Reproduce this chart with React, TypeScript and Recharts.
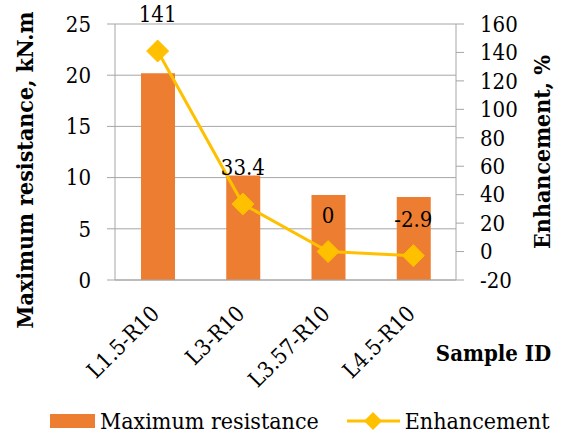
import {
  ComposedChart,
  Bar,
  Line,
  XAxis,
  YAxis,
  CartesianGrid,
  Legend,
  LabelList,
} from "recharts";

const sampleIds = ["L1.5-R10", "L3-R10", "L3.57-R10", "L4.5-R10"];
const maxResistance = [20.2, 10.2, 8.3, 8.1];
const enhancement = [141, 33.4, 0, -2.9];

const leftTicks = [0, 5, 10, 15, 20, 25];
const rightTicks = [-20, 0, 20, 40, 60, 80, 100, 120, 140, 160];
const edgeTicks = [0, 1, 2, 3, 4];

const data = sampleIds.map((id, i) => ({
  id,
  resistance: maxResistance[i],
  enhancement: enhancement[i],
}));

const FONT = '"DejaVu Serif Condensed", "DejaVu Serif"';
const ORANGE = "#ED7D31";
const GOLD = "#FFC000";
const GRID = "#A6A6A6";

const titleStyle = {
  fontFamily: FONT,
  fontSize: 22,
  fontWeight: "bold",
  fill: "#000",
};
const yTitleStyle = { ...titleStyle, fontSize: 23 };

// blank label for the boundary tick marks
const EmptyTick = () => null;

const CategoryTick = (props: any) => {
  const { x, y, payload } = props;
  const ax = x + 3;
  const ay = y + 26;
  return (
    <text
      x={ax}
      y={ay}
      transform={`rotate(-45 ${ax} ${ay})`}
      textAnchor="end"
      fontSize={22}
      style={{ fontFamily: FONT }}
      fill="#000"
    >
      {payload.value}
    </text>
  );
};

const Diamond = (props: any) => {
  const { cx, cy } = props;
  if (cx == null || cy == null) return null;
  const r = 11;
  return (
    <path
      d={`M${cx},${cy - r}L${cx + r},${cy}L${cx},${cy + r}L${cx - r},${cy}Z`}
      fill={GOLD}
      stroke={GOLD}
    />
  );
};

const LegendContent = () => (
  <div
    style={{
      display: "flex",
      alignItems: "center",
      fontFamily: FONT,
      fontSize: 23,
      color: "#000",
      whiteSpace: "nowrap",
      height: 30,
    }}
  >
    <span
      style={{ width: 45, height: 14, background: ORANGE, marginRight: 5 }}
    />
    <span style={{ marginRight: 28 }}>Maximum resistance</span>
    <svg width={53} height={24} style={{ marginRight: 5 }}>
      <line x1={0} y1={12} x2={53} y2={12} stroke={GOLD} strokeWidth={3} />
      <path d="M26,3L35,12L26,21L17,12Z" fill={GOLD} />
    </svg>
    <span>Enhancement</span>
  </div>
);

export default function App() {
  return (
    <div style={{ position: "absolute", left: 0, top: 0 }}>
      <ComposedChart
        width={562}
        height={441}
        data={data}
        margin={{ top: 24, right: 0, bottom: 0, left: 0 }}
      >
        <CartesianGrid
          vertical={false}
          stroke={GRID}
          xAxisId="cat"
          yAxisId="left"
        />
        <XAxis
          xAxisId="edge"
          type="number"
          domain={[0, 4]}
          ticks={edgeTicks}
          allowDataOverflow
          height={0}
          axisLine={false}
          tickSize={7}
          tickLine={{ stroke: GRID }}
          tick={EmptyTick}
        />
        <XAxis
          xAxisId="cat"
          dataKey="id"
          height={161}
          tickLine={false}
          tickSize={7}
          tickMargin={2}
          axisLine={{ stroke: GRID }}
          interval={0}
          tick={<CategoryTick />}
          label={{
            value: "Sample ID",
            position: "center",
            dx: 208,
            dy: -7,
            style: titleStyle,
          }}
        />
        <YAxis
          yAxisId="left"
          width={115}
          domain={[0, 25]}
          ticks={leftTicks}
          interval={0}
          tickSize={8}
          tickMargin={16}
          axisLine={{ stroke: GRID }}
          tickLine={{ stroke: GRID }}
          tick={{ fontSize: 22, fill: "#000", style: { fontFamily: FONT } }}
          label={{
            value: "Maximum resistance, kN.m",
            angle: -90,
            position: "center",
            dx: -33,
            dy: 18,
            style: yTitleStyle,
          }}
        />
        <YAxis
          yAxisId="right"
          orientation="right"
          width={106}
          domain={[-20, 160]}
          ticks={rightTicks}
          interval={0}
          tickSize={8}
          tickMargin={16}
          axisLine={{ stroke: GRID }}
          tickLine={{ stroke: GRID }}
          tick={{ fontSize: 22, fill: "#000", style: { fontFamily: FONT } }}
          label={{
            value: "Enhancement, %",
            angle: -90,
            position: "center",
            dx: 33,
            dy: 0,
            style: yTitleStyle,
          }}
        />
        <Legend
          layout="horizontal"
          align="center"
          verticalAlign="middle"
          wrapperStyle={{ left: 50, top: 406, width: "auto" }}
          content={<LegendContent />}
        />
        <Bar
          xAxisId="cat"
          yAxisId="left"
          dataKey="resistance"
          name="Maximum resistance"
          fill={ORANGE}
          barSize={34}
          isAnimationActive={false}
        />
        <Line
          xAxisId="cat"
          yAxisId="right"
          dataKey="enhancement"
          name="Enhancement"
          stroke={GOLD}
          strokeWidth={3}
          dot={<Diamond />}
          activeDot={false}
          isAnimationActive={false}
        >
          <LabelList
            dataKey="enhancement"
            position="top"
            offset={29}
            style={{ fontSize: 22, fontFamily: FONT, fill: "#000" }}
          />
        </Line>
      </ComposedChart>
    </div>
  );
}
